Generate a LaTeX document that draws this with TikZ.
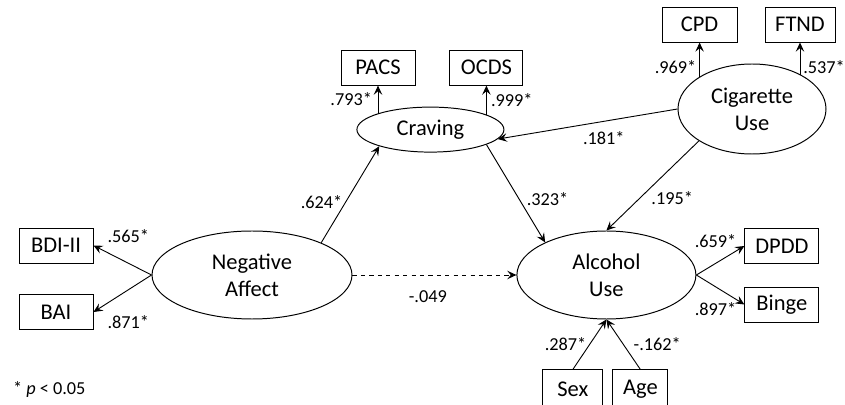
\documentclass[tikz,border=0pt]{standalone}
\usepackage{fontspec}
\setmainfont{Carlito}
\usetikzlibrary{shapes.geometric, arrows.meta, positioning}

\begin{document}
\begin{tikzpicture}[
    node distance=0.525cm and 1.2cm,
    every node/.style={font=\fontsize{16}{19}\selectfont},
    latent/.style={ellipse, draw=black, line width=0.7pt, inner sep=0pt, align=center},
    obs/.style={rectangle, draw=black, line width=0.7pt, inner sep=0pt, minimum width=1.85cm, minimum height=0.875cm},
    coef/.style={font=\fontsize{13}{15}\selectfont, inner sep=2pt},
    arrow/.style={->, >={Stealth[length=6.5pt, width=6pt, inset=2.5pt]}, line width=0.65pt}
]
\useasboundingbox (0,0) rectangle (21.125,10.1);

% --- latent variables ---
\node[latent, minimum width=3.675cm, minimum height=1.125cm] (craving) at (10.76,6.86) {Craving};
\node[latent, minimum width=3.7cm, minimum height=2.25cm] (cig) at (18.8,7.375) {Cigarette\\Use};
\node[latent, minimum width=5cm, minimum height=2.2cm] (negaff) at (6.3,3.225) {Negative\\Affect};
\node[latent, minimum width=4.475cm, minimum height=2.2cm] (alcohol) at (15.16,3.225) {Alcohol\\Use};

% --- indicators ---
\node[obs, above=of craving, xshift=-1.31cm] (pacs) {PACS};
\node[obs, above=of craving, xshift=1.4cm, minimum width=1.825cm] (ocds) {OCDS};
\node[obs, above=of cig, xshift=-1.31cm, minimum width=1.875cm] (cpd) {CPD};
\node[obs, above=of cig, xshift=1.2cm, minimum width=1.75cm] (ftnd) {FTND};
\node[obs, left=1.45cm of negaff, yshift=0.7375cm] (bdi) {BDI-II};
\node[obs, left=1.45cm of negaff, yshift=-0.925cm] (bai) {BAI};
\node[obs, right=of alcohol, yshift=0.725cm] (dpdd) {DPDD};
\node[obs, right=of alcohol, yshift=-0.7375cm] (binge) {Binge};
\node[obs, below=1.25cm of alcohol, xshift=-0.84cm, minimum width=1.5cm, minimum height=0.95cm] (sex) {Sex};
\node[obs, below=1.25cm of alcohol, xshift=0.85cm, minimum width=1.375cm, minimum height=0.95cm] (age) {Age};

% --- measurement paths ---
\draw[arrow] (pacs.south |- craving.163) -- node[coef, left=2pt] (l1) {.793*} (pacs.south);
\draw[arrow] (ocds.south |- craving.15) -- node[coef, right=1pt] (l2) {.999*} (ocds.south);
\draw[arrow] (cpd.south |- cig.149) -- node[coef, left=0pt, pos=0.3] (l3) {.969*} (cpd.south);
\draw[arrow] (ftnd.south |- cig.35) -- node[coef, right=0pt, pos=0.25] (l4) {.537*} (ftnd.south);
\draw[arrow] (negaff.west) -- node[coef, above=12pt, pos=0.4] (l5) {.565*} (bdi.east);
\draw[arrow] (negaff.west) -- node[coef, below=16pt, pos=0.4] (l6) {.871*} (bai.east);
\draw[arrow] (alcohol.east) -- node[coef, above=9pt, pos=0.4] (l7) {.659*} (dpdd.west);
\draw[arrow] (alcohol.east) -- node[coef, below=9pt, pos=0.4] (l8) {.897*} (binge.west);

% --- structural paths ---
\draw[arrow] (negaff.25) -- node[coef, left=0pt, pos=0.42] (l9) {.624*} (craving.198);
\draw[arrow] (craving.345) -- node[coef, right=3pt, pos=0.56] (l10) {.323*} (alcohol.152);
\draw[arrow] (cig.west) -- node[coef, below=5pt, pos=0.41] (l11) {.181*} (craving.352);
\draw[arrow] (cig.211) -- node[coef, right=6pt, pos=0.64] (l12) {.195*} (alcohol.north);
\draw[arrow, dashed] (negaff.east) -- node[coef, below=9pt, pos=0.46] (l13) {-.049} (alcohol.west);
\draw[arrow] (sex.north) -- node[coef, left=0pt] (l14) {.287*} (alcohol.south);
\draw[arrow] (age.north) -- node[coef, right=5pt] (l15) {-.162*} (alcohol.south);

\node[coef, anchor=west] (note) at (0.25,0.375) {* \textit{p} < 0.05};
\end{tikzpicture}
\end{document}
